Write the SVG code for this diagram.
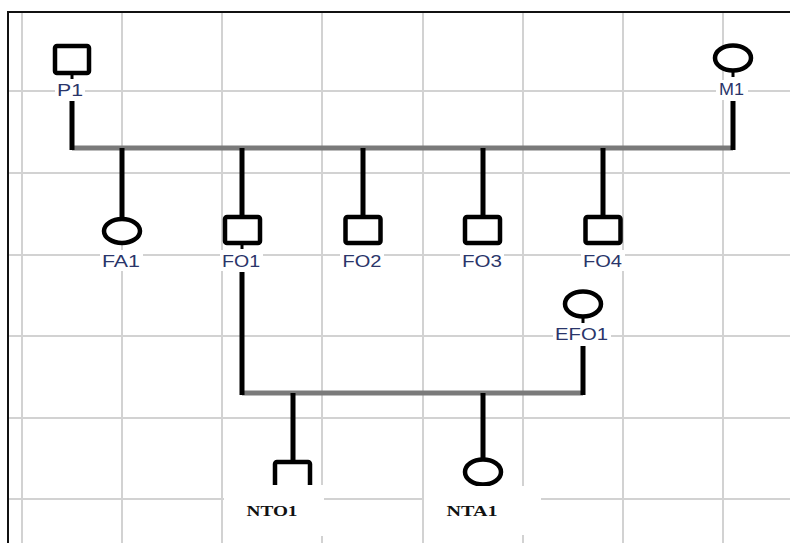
<svg xmlns="http://www.w3.org/2000/svg" width="790" height="543" viewBox="0 0 790 543">
  <style>
    .grid { stroke: #d2d2d2; stroke-width: 2; fill: none; }
    .frame { stroke: #111; stroke-width: 2; fill: none; }
    .shape { fill: #fff; stroke: #000; stroke-width: 4.5; }
    .stem { stroke: #000; stroke-width: 5; fill: none; }
    .bar { stroke: #7a7a7a; stroke-width: 5; fill: none; }
    .tick { stroke: #000; stroke-width: 3; }
    .bg { fill: #fff; stroke: none; }
    .lbl { font-family: "Liberation Sans", Arial, sans-serif; font-size: 16px; fill: #2a356a; text-anchor: middle; }
    .lbl2 { font-family: "Liberation Serif", "Times New Roman", serif; font-size: 15.5px; font-weight: bold; fill: #111; text-anchor: middle; }
  </style>

  <rect width="790" height="543" fill="#fff"/>

  <!-- background grid -->
  <g id="grid">
    <path class="grid" d="M22 12V543M122 12V543M222 12V543M322 12V543M423 12V543M523 12V543M623 12V543M723 12V543"/>
    <path class="grid" d="M8 91H790M8 173H790M8 255H790M8 336H790M8 418H790M8 499H790"/>
    <path class="frame" d="M8 543V12H790"/>
  </g>

  <!-- connectors -->
  <g id="connectors">
    <path class="bar" d="M72 148H733"/>
    <path class="stem" d="M72 101V150M733 101V150"/>
    <path class="stem" d="M122 148V218M242 148V216M363 148V216M483 148V216M603 148V216"/>
    <path class="bar" d="M242 393H583"/>
    <path class="stem" d="M242 272V395M583 346V395"/>
    <path class="stem" d="M293 393V461M483 393V459"/>
  </g>

  <!-- generation I -->
  <g id="P1">
    <rect class="shape" x="55" y="46" width="34" height="27" rx="2"/>
    <line class="tick" x1="72" y1="75" x2="72" y2="79"/>
    <rect class="bg" x="55" y="80" width="30" height="20"/>
    <text class="lbl" x="70" y="96" textLength="26" lengthAdjust="spacingAndGlyphs">P1</text>
  </g>
  <g id="M1">
    <ellipse class="shape" cx="733" cy="58" rx="18" ry="12.5"/>
    <line class="tick" x1="733" y1="72" x2="733" y2="77"/>
    <rect class="bg" x="716" y="80" width="32" height="20"/>
    <text class="lbl" x="731.5" y="95" textLength="25" lengthAdjust="spacingAndGlyphs">M1</text>
  </g>

  <!-- generation II -->
  <g id="FA1">
    <ellipse class="shape" cx="122" cy="231" rx="18" ry="12"/>
    <rect class="bg" x="100" y="250" width="43" height="21"/>
    <text class="lbl" x="121" y="267" textLength="38" lengthAdjust="spacingAndGlyphs">FA1</text>
  </g>
  <g id="FO1">
    <rect class="shape" x="225" y="217" width="35" height="26" rx="2"/>
    <line class="tick" x1="242" y1="245" x2="242" y2="249"/>
    <rect class="bg" x="220" y="250" width="43" height="21"/>
    <text class="lbl" x="241" y="267" textLength="38" lengthAdjust="spacingAndGlyphs">FO1</text>
  </g>
  <g id="FO2">
    <rect class="shape" x="345.5" y="217" width="35" height="26" rx="2"/>
    <rect class="bg" x="340" y="250" width="44" height="21"/>
    <text class="lbl" x="362" y="267" textLength="39" lengthAdjust="spacingAndGlyphs">FO2</text>
  </g>
  <g id="FO3">
    <rect class="shape" x="465" y="217" width="35" height="26" rx="2"/>
    <rect class="bg" x="460" y="250" width="44" height="21"/>
    <text class="lbl" x="482" y="267" textLength="40" lengthAdjust="spacingAndGlyphs">FO3</text>
  </g>
  <g id="FO4">
    <rect class="shape" x="585.5" y="217" width="35" height="26" rx="2"/>
    <rect class="bg" x="581" y="250" width="44" height="21"/>
    <text class="lbl" x="602.5" y="267" textLength="39" lengthAdjust="spacingAndGlyphs">FO4</text>
  </g>
  <g id="EFO1">
    <ellipse class="shape" cx="583" cy="304" rx="18" ry="12.5"/>
    <line class="tick" x1="583" y1="318" x2="583" y2="323"/>
    <rect class="bg" x="553" y="324" width="58" height="21"/>
    <text class="lbl" x="581.5" y="340" textLength="53" lengthAdjust="spacingAndGlyphs">EFO1</text>
  </g>

  <!-- generation III -->
  <g id="NTO1">
    <rect class="shape" x="275" y="462" width="35" height="26" rx="2"/>
    <rect class="bg" x="224" y="485" width="100" height="51"/>
    <text class="lbl2" x="272" y="516" textLength="51" lengthAdjust="spacingAndGlyphs">NTO1</text>
  </g>
  <g id="NTA1">
    <ellipse class="shape" cx="483" cy="472" rx="18" ry="12.5"/>
    <rect class="bg" x="424" y="486" width="117" height="49"/>
    <text class="lbl2" x="472" y="516" textLength="51" lengthAdjust="spacingAndGlyphs">NTA1</text>
  </g>
</svg>
